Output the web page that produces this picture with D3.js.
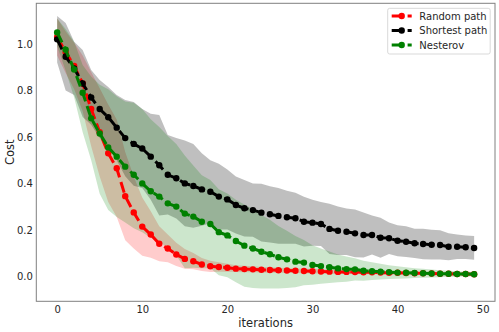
<!DOCTYPE html>
<html>
<head>
<meta charset="utf-8">
<script src="https://cdn.jsdelivr.net/npm/d3@7"></script>
<style>
  body { margin: 0; background: #fff; }
  svg { display: block; font-family: 'DejaVu Sans', sans-serif; }
</style>
</head>
<body>
<svg id="chart" width="499" height="332"></svg>
<script>
/*
 * Cost per iteration, mean with a shaded spread band for each method
 */
var iterations = d3.range(50);

var randomMean = [1.03, 0.965, 0.905, 0.83, 0.72, 0.62, 0.53, 0.465, 0.345, 0.275,
  0.214, 0.18, 0.14, 0.12, 0.094, 0.075, 0.065, 0.051, 0.043, 0.04,
  0.037, 0.033, 0.031, 0.03, 0.028, 0.027, 0.026, 0.025, 0.024, 0.023,
  0.022, 0.021, 0.02, 0.019, 0.019, 0.018, 0.017, 0.017, 0.016, 0.015,
  0.015, 0.014, 0.013, 0.013, 0.012, 0.011, 0.011, 0.01, 0.01, 0.009];
var randomSpread = [0.08, 0.09, 0.1, 0.12, 0.16, 0.19, 0.21, 0.21, 0.19, 0.155,
  0.125, 0.1, 0.075, 0.06, 0.05, 0.042, 0.035, 0.028, 0.024, 0.02,
  0.017, 0.015, 0.014, 0.013, 0.012, 0.012, 0.011, 0.011, 0.01, 0.01,
  0.01, 0.009, 0.009, 0.009, 0.008, 0.008, 0.008, 0.008, 0.007, 0.007,
  0.007, 0.007, 0.007, 0.006, 0.006, 0.006, 0.006, 0.006, 0.006, 0.006];

var shortestMean = [1.02, 0.945, 0.895, 0.83, 0.77, 0.72, 0.685, 0.64, 0.595, 0.57,
  0.55, 0.515, 0.478, 0.437, 0.422, 0.4, 0.389, 0.374, 0.364, 0.343,
  0.331, 0.307, 0.293, 0.285, 0.274, 0.267, 0.26, 0.254, 0.25, 0.235,
  0.231, 0.225, 0.204, 0.196, 0.192, 0.185, 0.178, 0.178, 0.166, 0.164,
  0.153, 0.149, 0.142, 0.139, 0.136, 0.135, 0.127, 0.127, 0.125, 0.122];
var shortestSpread = [0.1, 0.145, 0.115, 0.144, 0.118, 0.125, 0.13, 0.14, 0.164, 0.18,
  0.17, 0.185, 0.216, 0.171, 0.173, 0.185, 0.18, 0.156, 0.136, 0.142,
  0.129, 0.123, 0.122, 0.115, 0.124, 0.121, 0.12, 0.114, 0.11, 0.107,
  0.099, 0.095, 0.108, 0.104, 0.1, 0.103, 0.097, 0.084, 0.086, 0.068,
  0.067, 0.066, 0.063, 0.066, 0.064, 0.063, 0.058, 0.053, 0.051, 0.051];

var nesterovMean = [1.05, 0.975, 0.89, 0.79, 0.68, 0.615, 0.555, 0.515, 0.472, 0.437,
  0.4, 0.366, 0.343, 0.314, 0.3, 0.27, 0.257, 0.235, 0.225, 0.19,
  0.176, 0.152, 0.132, 0.12, 0.106, 0.095, 0.082, 0.073, 0.063, 0.059,
  0.049, 0.044, 0.039, 0.034, 0.031, 0.03, 0.024, 0.022, 0.02, 0.018,
  0.016, 0.015, 0.014, 0.013, 0.012, 0.011, 0.011, 0.01, 0.01, 0.009];
// Nesterov band is wider above the mean than below it
var nesterovSpreadUp = [0.06, 0.09, 0.12, 0.12, 0.18, 0.21, 0.25, 0.26, 0.28, 0.31,
  0.32, 0.31, 0.3, 0.29, 0.27, 0.25, 0.22, 0.2, 0.19, 0.185,
  0.18, 0.178, 0.177, 0.17, 0.158, 0.148, 0.135, 0.123, 0.11, 0.097,
  0.085, 0.076, 0.068, 0.06, 0.054, 0.048, 0.043, 0.038, 0.034, 0.03,
  0.027, 0.024, 0.021, 0.019, 0.017, 0.015, 0.013, 0.012, 0.011, 0.01];
var nesterovSpreadDown = [0.06, 0.09, 0.12, 0.17, 0.18, 0.26, 0.27, 0.26, 0.24, 0.23,
  0.21, 0.2, 0.195, 0.19, 0.21, 0.235, 0.22, 0.2, 0.19, 0.185,
  0.18, 0.178, 0.177, 0.17, 0.158, 0.148, 0.135, 0.123, 0.11, 0.097,
  0.085, 0.076, 0.068, 0.06, 0.054, 0.048, 0.043, 0.038, 0.034, 0.03,
  0.027, 0.024, 0.021, 0.019, 0.017, 0.015, 0.013, 0.012, 0.011, 0.01];

var seriesNames = ['Random path', 'Shortest path', 'Nesterov'];
var seriesColors = ['#ff0000', '#000000', '#008000'];
var xTicks = [0, 10, 20, 30, 40, 50];
var yTicks = [0, 0.2, 0.4, 0.6, 0.8, 1.0];

var series = [
  { name: seriesNames[0], color: seriesColors[0], mean: randomMean, up: randomSpread, down: randomSpread, alpha: 0.2 },
  { name: seriesNames[1], color: seriesColors[1], mean: shortestMean, up: shortestSpread, down: shortestSpread, alpha: 0.25 },
  { name: seriesNames[2], color: seriesColors[2], mean: nesterovMean, up: nesterovSpreadUp, down: nesterovSpreadDown, alpha: 0.2 }
];

var svg = d3.select('#chart');
var margin = { top: 3.3, right: 4, bottom: 30.7, left: 36.3 };
var width = +svg.attr('width');
var height = +svg.attr('height');

var x = d3.scaleLinear()
  .domain([-2.45, 51.45])
  .range([margin.left, width - margin.right]);
var y = d3.scaleLinear()
  .domain([-0.1076, 1.1752])
  .range([height - margin.bottom, margin.top]);

/*
 * Shaded bands first, then the dashed lines with markers on top
 */
var bands = svg.append('g');
series.forEach(function(s) {
  var area = d3.area()
    .x(function(i) { return x(i); })
    .y0(function(i) { return y(s.mean[i] - s.down[i]); })
    .y1(function(i) { return y(s.mean[i] + s.up[i]); });
  bands.append('path')
    .attr('d', area(iterations))
    .attr('fill', s.color)
    .attr('fill-opacity', s.alpha);
});

var lines = svg.append('g');
series.forEach(function(s) {
  var line = d3.line()
    .x(function(i) { return x(i); })
    .y(function(i) { return y(s.mean[i]); });
  var g = lines.append('g');
  g.append('path')
    .attr('d', line(iterations))
    .attr('fill', 'none')
    .attr('stroke', s.color)
    .attr('stroke-width', 3)
    .attr('stroke-dasharray', '11.1,4.8');
  g.selectAll('circle')
    .data(iterations)
    .enter().append('circle')
    .attr('cx', function(i) { return x(i); })
    .attr('cy', function(i) { return y(s.mean[i]); })
    .attr('r', 3.2)
    .attr('fill', s.color);
});

// Frame
svg.append('rect')
  .attr('x', margin.left)
  .attr('y', margin.top)
  .attr('width', width - margin.right - margin.left)
  .attr('height', height - margin.bottom - margin.top)
  .attr('fill', 'none')
  .attr('stroke', '#808080')
  .attr('stroke-width', 1);

// Axes, no tick marks, only labels
var xAxis = svg.append('g')
  .attr('transform', 'translate(0,' + (height - margin.bottom) + ')')
  .call(d3.axisBottom(x).tickValues(xTicks).tickSize(0).tickPadding(4.5).tickFormat(d3.format('d')));
var yAxis = svg.append('g')
  .attr('transform', 'translate(' + margin.left + ',0)')
  .call(d3.axisLeft(y).tickValues(yTicks).tickSize(0).tickPadding(3.5).tickFormat(d3.format('.1f')));

[xAxis, yAxis].forEach(function(a) {
  a.select('.domain').remove();
  a.selectAll('text')
    .attr('font-family', 'DejaVu Sans, sans-serif')
    .attr('font-size', 10)
    .attr('fill', '#262626');
});

svg.append('text')
  .attr('x', (margin.left + width - margin.right) / 2)
  .attr('y', 327)
  .attr('text-anchor', 'middle')
  .attr('font-size', 11.5)
  .attr('fill', '#262626')
  .text('iterations');

svg.append('text')
  .attr('transform', 'translate(14,' + ((margin.top + height - margin.bottom) / 2) + ') rotate(-90)')
  .attr('text-anchor', 'middle')
  .attr('font-size', 11.5)
  .attr('fill', '#262626')
  .text('Cost');

/*
 * Legend
 */
var legend = svg.append('g');
legend.append('rect')
  .attr('x', 387.7)
  .attr('y', 8.3)
  .attr('width', 102.5)
  .attr('height', 45.7)
  .attr('rx', 2)
  .attr('fill', '#fff')
  .attr('fill-opacity', 0.8)
  .attr('stroke', '#d9d9d9')
  .attr('stroke-width', 1);

series.forEach(function(s, k) {
  var cy = 16 + k * 14.5;
  legend.append('line')
    .attr('x1', 391.7)
    .attr('x2', 411.7)
    .attr('y1', cy)
    .attr('y2', cy)
    .attr('stroke', s.color)
    .attr('stroke-width', 3)
    .attr('stroke-dasharray', '11.1,4.8');
  legend.append('circle')
    .attr('cx', 401.7)
    .attr('cy', cy)
    .attr('r', 3.2)
    .attr('fill', s.color);
  legend.append('text')
    .attr('x', 419.3)
    .attr('y', cy + 3.6)
    .attr('font-size', 10)
    .attr('fill', '#262626')
    .text(s.name);
});
</script>
</body>
</html>
